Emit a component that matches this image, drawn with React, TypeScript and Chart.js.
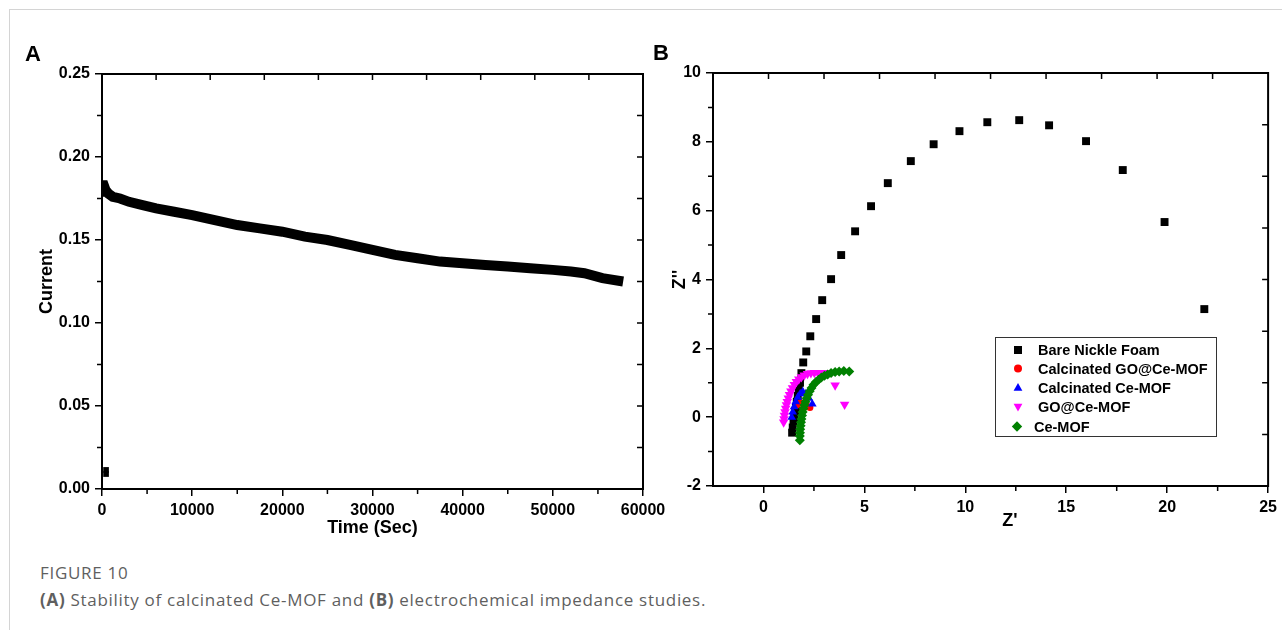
import React, { useEffect, useRef } from "react";
import { Chart, registerables } from "chart.js";

Chart.register(...registerables);

// ---------- Panel A: stability ----------
const timeSec = [0, 80, 200, 400, 700, 1200, 2000, 3000, 4500, 6000, 8000, 10000, 12500, 15000, 17500, 20000, 22500, 25000, 27500, 30000, 32500, 35000, 37500, 40000, 42500, 45000, 47500, 50000, 52000, 53500, 55500, 57800];
const currentA = [0.179, 0.183, 0.183, 0.18, 0.178, 0.176, 0.175, 0.173, 0.171, 0.169, 0.167, 0.165, 0.162, 0.159, 0.157, 0.155, 0.152, 0.15, 0.147, 0.144, 0.141, 0.139, 0.137, 0.136, 0.135, 0.134, 0.133, 0.132, 0.131, 0.13, 0.127, 0.125];
const initialTime = [450, 450];
const initialCurrent = [0.009, 0.0115];

const xTicksA = [0, 10000, 20000, 30000, 40000, 50000, 60000];
const yTicksA = [0, 0.05, 0.1, 0.15, 0.2, 0.25];
const xMinorA = [5000, 15000, 25000, 35000, 45000, 55000];
const yMinorA = [0.025, 0.075, 0.125, 0.175, 0.225];
const xTopA = [6000, 12000, 18000, 24000, 30000, 36000, 42000, 48000, 54000];
const yRightA = [0.025, 0.05, 0.075, 0.1, 0.125, 0.15, 0.175, 0.2, 0.225];

// ---------- Panel B: impedance ----------
const bareX = [1.42, 1.45, 1.49, 1.53, 1.57, 1.61, 1.65, 1.7, 1.75, 1.81, 1.88, 1.97, 2.12, 2.32, 2.61, 2.91, 3.35, 3.85, 4.54, 5.33, 6.16, 7.3, 8.43, 9.71, 11.09, 12.67, 14.15, 15.98, 17.8, 19.87, 21.84];
const bareY = [-0.45, -0.3, -0.15, 0.0, 0.15, 0.3, 0.45, 0.62, 0.8, 1.0, 1.28, 1.59, 1.91, 2.35, 2.85, 3.4, 4.01, 4.71, 5.4, 6.13, 6.8, 7.44, 7.93, 8.31, 8.57, 8.63, 8.48, 8.02, 7.18, 5.67, 3.14];
const redX = [1.65, 1.75, 1.85, 2.0, 2.15, 2.3];
const redY = [0.35, 0.4, 0.42, 0.38, 0.33, 0.28];
const blueX = [1.4, 1.45, 1.52, 1.6, 1.7, 1.82, 1.95, 2.1, 2.25, 2.42];
const blueY = [0.0, 0.15, 0.3, 0.45, 0.58, 0.68, 0.74, 0.68, 0.55, 0.38];
const magX = [1.0, 1.02, 1.04, 1.07, 1.1, 1.14, 1.18, 1.23, 1.29, 1.36, 1.44, 1.53, 1.63, 1.75, 1.88, 2.02, 2.18, 2.35, 2.52, 2.7, 2.88, 3.05, 3.55, 4.02];
const magY = [-0.15, -0.05, 0.05, 0.15, 0.25, 0.35, 0.45, 0.55, 0.65, 0.75, 0.85, 0.94, 1.03, 1.1, 1.17, 1.22, 1.26, 1.28, 1.29, 1.29, 1.29, 1.29, 0.93, 0.37];
const greenX = [1.8, 1.8, 1.81, 1.82, 1.84, 1.86, 1.88, 1.91, 1.94, 1.98, 2.03, 2.08, 2.14, 2.21, 2.29, 2.38, 2.48, 2.6, 2.73, 2.87, 3.02, 3.18, 3.35, 3.55, 3.75, 3.98, 4.25];
const greenY = [-0.67, -0.55, -0.45, -0.35, -0.25, -0.15, -0.05, 0.05, 0.15, 0.25, 0.35, 0.45, 0.55, 0.65, 0.75, 0.85, 0.94, 1.02, 1.09, 1.15, 1.2, 1.24, 1.28, 1.31, 1.33, 1.34, 1.33];

const xTicksB = [0, 5, 10, 15, 20, 25];
const yTicksB = [-2, 0, 2, 4, 6, 8, 10];
const xMinorB = [2.5, 7.5, 12.5, 17.5, 22.5];
const yMinorB = [-1, 1, 3, 5, 7, 9];
const xTopB = [0.25, 3, 5.75, 8.5, 11.25, 14, 16.75, 19.5, 22.25];
const yRightB = [-0.5, 1, 2.5, 4, 5.5, 7, 8.5];

const legendLabels = ["Bare Nickle Foam", "Calcinated GO@Ce-MOF", "Calcinated Ce-MOF", "GO@Ce-MOF", "Ce-MOF"];
const legendColors = ["#000000", "#ff0000", "#0000ff", "#ff00ff", "#008000"];
const legendShapes = ["square", "circle", "triUp", "triDown", "diamond"];

const FONT = "'Liberation Sans', Arial, sans-serif";
const tickFont = { family: FONT, size: 16, weight: "bold" as const };
const titleFont = { family: FONT, size: 18, weight: "bold" as const };

const pts = (xs: number[], ys: number[]) => xs.map((x, i) => ({ x, y: ys[i] }));

function frameTicks(spec: { xMinor: number[]; yMinor: number[]; xTop: number[]; yRight: number[] }) {
  return {
    id: "frameTicks",
    afterDraw(chart: any) {
      const { ctx, chartArea: a } = chart;
      const xs = chart.scales.x;
      const ys = chart.scales.y;
      ctx.save();
      ctx.strokeStyle = "#000";
      ctx.lineWidth = 2;
      ctx.strokeRect(a.left, a.top, a.right - a.left, a.bottom - a.top);
      ctx.lineWidth = 1.5;
      ctx.beginPath();
      spec.xMinor.forEach((v) => {
        const p = xs.getPixelForValue(v);
        ctx.moveTo(p, a.bottom);
        ctx.lineTo(p, a.bottom + 5);
      });
      spec.yMinor.forEach((v) => {
        const p = ys.getPixelForValue(v);
        ctx.moveTo(a.left - 5, p);
        ctx.lineTo(a.left, p);
      });
      spec.xTop.forEach((v) => {
        const p = xs.getPixelForValue(v);
        ctx.moveTo(p, a.top);
        ctx.lineTo(p, a.top + 6);
      });
      spec.yRight.forEach((v) => {
        const p = ys.getPixelForValue(v);
        ctx.moveTo(a.right - 6, p);
        ctx.lineTo(a.right, p);
      });
      ctx.stroke();
      ctx.restore();
    },
  };
}

function drawMarker(ctx: CanvasRenderingContext2D, shape: string, x: number, y: number, r: number, color: string) {
  ctx.fillStyle = color;
  ctx.beginPath();
  if (shape === "square") ctx.rect(x - r, y - r, 2 * r, 2 * r);
  else if (shape === "circle") ctx.arc(x, y, r, 0, Math.PI * 2);
  else if (shape === "triUp") {
    ctx.moveTo(x, y - r * 1.1);
    ctx.lineTo(x + r * 1.1, y + r * 0.8);
    ctx.lineTo(x - r * 1.1, y + r * 0.8);
    ctx.closePath();
  } else if (shape === "triDown") {
    ctx.moveTo(x, y + r * 1.1);
    ctx.lineTo(x + r * 1.1, y - r * 0.8);
    ctx.lineTo(x - r * 1.1, y - r * 0.8);
    ctx.closePath();
  } else if (shape === "diamond") {
    ctx.moveTo(x, y - r * 1.3);
    ctx.lineTo(x + r * 1.3, y);
    ctx.lineTo(x, y + r * 1.3);
    ctx.lineTo(x - r * 1.3, y);
    ctx.closePath();
  }
  ctx.fill();
}

const legendPlugin = {
  id: "legendB",
  afterDraw(chart: any) {
    const { ctx } = chart;
    ctx.save();
    ctx.strokeStyle = "#333";
    ctx.lineWidth = 1;
    ctx.strokeRect(355.5, 337.5, 221, 99);
    ctx.font = `bold 14.5px ${FONT}`;
    ctx.textBaseline = "middle";
    ctx.fillStyle = "#000";
    const rows = [350, 368.5, 387.5, 407, 426.5];
    legendLabels.forEach((lab, i) => {
      const mx = i === 4 ? 377 : 378;
      drawMarker(ctx, legendShapes[i], mx, rows[i], 4, legendColors[i]);
      ctx.fillStyle = "#000";
      ctx.fillText(lab, i === 4 ? 394 : 398, rows[i] + 1);
    });
    ctx.font = `bold 18px ${FONT}`;
    ctx.textAlign = "center";
    ctx.fillText("Z'", 370, 521);
    ctx.restore();
  },
};

function baseAxis(opts: any) {
  const { min, max, ticks, fmt, pos, size, title, titlePad } = opts;
  const horiz = pos === "bottom";
  return {
    type: "linear",
    position: pos,
    min,
    max,
    afterBuildTicks: (s: any) => {
      s.ticks = ticks.map((v: number) => ({ value: v }));
    },
    afterFit: (s: any) => {
      if (horiz) s.height = size;
      else s.width = size;
    },
    ticks: {
      font: tickFont,
      color: "#000",
      padding: 5,
      autoSkip: false,
      maxRotation: 0,
      callback: fmt,
    },
    grid: { drawOnChartArea: false, drawTicks: true, tickLength: 7, color: "#000", lineWidth: 1.5 },
    border: { display: true, color: "#000", width: 2 },
    title: title
      ? { display: true, text: title, font: titleFont, color: "#000", padding: titlePad }
      : { display: false },
  };
}

function PanelA() {
  const ref = useRef<HTMLCanvasElement>(null);
  useEffect(() => {
    const chart = new Chart(ref.current!, {
      type: "scatter",
      data: {
        datasets: [
          {
            data: pts(timeSec, currentA),
            showLine: true,
            borderColor: "#000",
            borderWidth: 10,
            pointRadius: 0,
            clip: 0,
            order: 2,
          } as any,
          {
            data: pts(initialTime, initialCurrent),
            pointStyle: "rect",
            pointRadius: 4,
            backgroundColor: "#000",
            borderColor: "#000",
            borderWidth: 0,
            order: 1,
          },
        ],
      },
      options: {
        animation: false,
        responsive: false,
        layout: { padding: { top: 74, right: 37, left: 0, bottom: 0 } },
        plugins: { legend: { display: false }, tooltip: { enabled: false } },
        scales: {
          x: baseAxis({ min: 0, max: 60000, ticks: xTicksA, fmt: (v: any) => String(v), pos: "bottom", size: 56, title: "Time (Sec)", titlePad: { top: 0, bottom: 6 } }),
          y: baseAxis({ min: 0, max: 0.25, ticks: yTicksA, fmt: (v: any) => Number(v).toFixed(2), pos: "left", size: 102, title: "Current", titlePad: { top: 36, bottom: 0 } }),
        } as any,
      },
      plugins: [frameTicks({ xMinor: xMinorA, yMinor: yMinorA, xTop: xTopA, yRight: yRightA })],
    });
    return () => chart.destroy();
  }, []);
  return <canvas ref={ref} width={680} height={545} style={{ position: "absolute", left: 0, top: 0 }} />;
}

function PanelB() {
  const ref = useRef<HTMLCanvasElement>(null);
  useEffect(() => {
    const mk = (xs: number[], ys: number[], color: string, style: string, r: number, order: number, rot = 0) => ({
      data: pts(xs, ys),
      pointStyle: style,
      pointRadius: r,
      rotation: rot,
      backgroundColor: color,
      borderColor: color,
      borderWidth: 0,
      order,
    });
    const chart = new Chart(ref.current!, {
      type: "scatter",
      data: {
        datasets: [
          mk(bareX, bareY, legendColors[0], "rect", 5.6, 5),
          mk(redX, redY, legendColors[1], "circle", 3.5, 4),
          mk(blueX, blueY, legendColors[2], "triangle", 5, 3),
          mk(magX, magY, legendColors[3], "triangle", 5.5, 2, 180),
          mk(greenX, greenY, legendColors[4], "rectRot", 5, 1),
        ] as any,
      },
      options: {
        animation: false,
        responsive: false,
        layout: { padding: { top: 73, right: 10, left: 0, bottom: 0 } },
        plugins: { legend: { display: false }, tooltip: { enabled: false } },
        scales: {
          x: baseAxis({ min: -2.5, max: 25, ticks: xTicksB, fmt: (v: any) => String(v), pos: "bottom", size: 59, title: null }),
          y: baseAxis({ min: -2, max: 10, ticks: yTicksB, fmt: (v: any) => String(v), pos: "left", size: 73, title: "Z''", titlePad: { top: 29, bottom: 0 } }),
        } as any,
      },
      plugins: [frameTicks({ xMinor: xMinorB, yMinor: yMinorB, xTop: xTopB, yRight: yRightB }), legendPlugin],
    });
    return () => chart.destroy();
  }, []);
  return <canvas ref={ref} width={642} height={545} style={{ position: "absolute", left: 640, top: 0 }} />;
}

export default function App() {
  const cap = { fontFamily: "'Open Sans', 'Noto Sans', sans-serif", color: "#5f5f5f", fontSize: 17, letterSpacing: "0.7px", position: "absolute" as const, left: 40, whiteSpace: "nowrap" as const };
  const letter = { position: "absolute" as const, fontFamily: FONT, fontWeight: "bold" as const, fontSize: 22, lineHeight: "22px", color: "#000" };
  return (
    <div style={{ position: "absolute", left: 0, top: 0, width: 1282, height: 630, background: "#fff", overflow: "hidden" }}>
      <div style={{ position: "absolute", left: 9, top: 9, width: 1290, height: 640, borderTop: "1px solid #d4d4d4", borderLeft: "1px solid #d4d4d4" }} />
      <PanelA />
      <PanelB />
      <div style={{ ...letter, left: 25, top: 43 }}>A</div>
      <div style={{ ...letter, left: 653, top: 42 }}>B</div>
      <div style={{ ...cap, top: 561 }}>FIGURE 10</div>
      <div style={{ ...cap, top: 588 }}>
        <b>(A)</b> Stability of calcinated Ce-MOF and <b>(B)</b> electrochemical impedance studies.
      </div>
    </div>
  );
}
